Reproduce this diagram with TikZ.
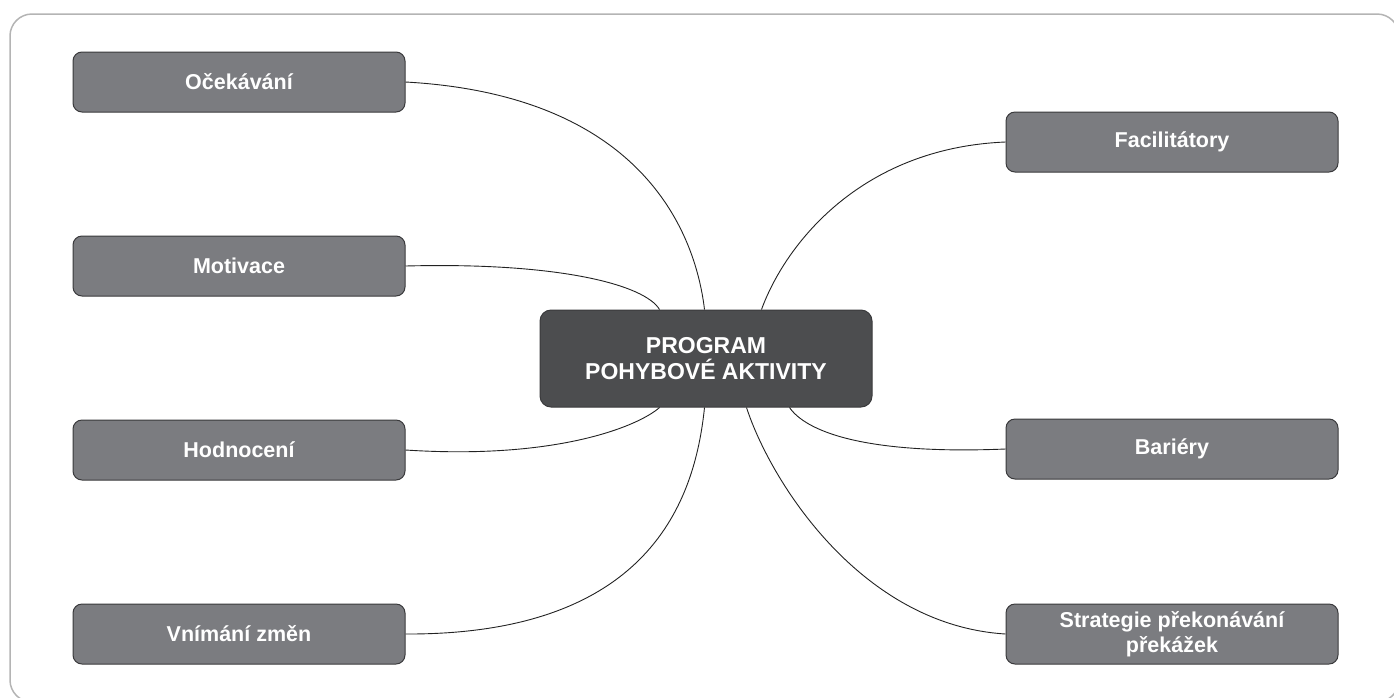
\documentclass[tikz,border=0pt]{standalone}
\usepackage{fontspec}
\setmainfont{Liberation Sans}
\usetikzlibrary{calc}
\definecolor{boxfill}{HTML}{7B7C80}
\definecolor{centerfill}{HTML}{4C4D4F}
\definecolor{boxline}{HTML}{3A3A3C}
\definecolor{frameline}{HTML}{B4B4B4}
\definecolor{conn}{HTML}{222222}
\begin{document}
\begin{tikzpicture}[x=1pt,y=-1pt,
  sidebox/.style={draw=boxline, line width=1pt, fill=boxfill, rounded corners=9pt,
    minimum width=332pt, minimum height=60pt, inner sep=0pt, text=white,
    font=\bfseries\fontsize{21.5}{25}\selectfont, align=center},
  centerbox/.style={draw=boxline, line width=1pt, fill=centerfill, rounded corners=11pt,
    minimum width=332pt, minimum height=97pt, inner sep=0pt, text=white,
    font=\bfseries\fontsize{23}{26}\selectfont, align=center},
  link/.style={draw=conn, line width=0.9pt}]
\useasboundingbox (0,0) rectangle (1394,697);
\begin{scope}
\clip (0,0) rectangle (1394,697);
\draw[frameline, line width=1.5pt, rounded corners=22pt] (10,14) rectangle (1399,702);
\end{scope}
\node[centerbox] (c) at (706,358.5) {PROGRAM\\POHYBOVÉ AKTIVITY};
\node[sidebox] (oc) at (239,82) {Očekávání};
\node[sidebox] (mo) at (239,266) {Motivace};
\node[sidebox] (ho) at (239,450) {Hodnocení};
\node[sidebox] (vn) at (239,634) {Vnímání změn};
\node[sidebox] (fa) at (1172,142) {Facilitátory};
\node[sidebox] (ba) at (1172,449) {Bariéry};
\node[sidebox] (st) at (1172,634) {Strategie překonávání\\překážek};
% connectors
\draw[link] (oc.east) .. controls (640,95) and (695,230) .. ([xshift=165pt]c.north west);
\draw[link] (mo.east) .. controls (560,262) and (645,285) .. ([xshift=120pt]c.north west);
\draw[link] (fa.west) .. controls (860,148) and (785,245) .. ([xshift=222pt]c.north west);
\draw[link] (ho.east) .. controls (560,460) and (640,425) .. ([xshift=120pt]c.south west);
\draw[link] (vn.east) .. controls (650,635) and (695,500) .. ([xshift=165pt]c.south west);
\draw[link] (ba.west) .. controls (860,455) and (805,430) .. ([xshift=250pt]c.south west);
\draw[link] (st.west) .. controls (860,625) and (770,480) .. ([xshift=207pt]c.south west);
\end{tikzpicture}
\end{document}
